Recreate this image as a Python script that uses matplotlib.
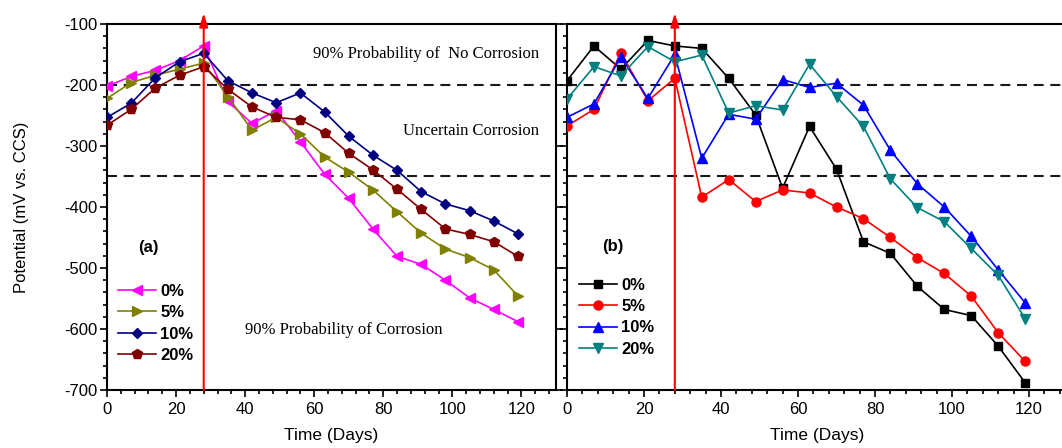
import matplotlib
matplotlib.use('Agg')
import matplotlib.pyplot as plt
from matplotlib.ticker import MultipleLocator

plt.rcParams['font.family'] = ['Liberation Sans', 'DejaVu Sans']
plt.rcParams['axes.unicode_minus'] = False

#=============================================================================
# Data (potential in mV vs. CCS)
#=============================================================================
days = [0, 7, 14, 21, 28, 35, 42, 49, 56, 63, 70, 77, 84, 91, 98, 105, 112, 119]
labels = ['0%', '5%', '10%', '20%']

# panel (a)
a_0 = [-202, -186, -176, -160, -136, -227, -263, -242, -293, -346, -386, -436,
       -481, -494, -520, -549, -568, -588]
a_5 = [-222, -196, -184, -174, -164, -219, -274, -253, -280, -318, -343, -372,
       -408, -443, -469, -483, -503, -546]
a_10 = [-253, -230, -188, -162, -148, -193, -213, -229, -213, -244, -284, -315,
        -340, -375, -395, -406, -423, -444]
a_20 = [-266, -240, -205, -184, -170, -207, -236, -253, -257, -278, -312, -339,
        -371, -404, -436, -445, -457, -481]

# panel (b)
b_0 = [-193, -136, -174, -127, -136, -140, -189, -249, -369, -268, -338, -457,
       -476, -530, -568, -578, -628, -688]
b_5 = [-267, -240, -147, -226, -189, -384, -355, -391, -372, -377, -400, -419,
       -450, -483, -509, -546, -606, -653]
b_10 = [-253, -231, -154, -222, -150, -320, -248, -256, -191, -204, -197, -233,
        -307, -362, -400, -448, -503, -557]
b_20 = [-223, -170, -185, -137, -162, -151, -246, -234, -241, -166, -219, -268,
        -354, -401, -424, -468, -512, -583]

limits = [-200, -350]
cure_day = 28

#=============================================================================
# Figure and axes
#=============================================================================
fig = plt.figure(figsize=(10.62, 4.48), dpi=100)
ax1 = fig.add_axes([107 / 1062, 58 / 448, 449 / 1062, 366 / 448])
ax2 = fig.add_axes([567 / 1062, 58 / 448, 500.5 / 1062, 366 / 448])


def setup_axes(ax, show_labels):
    ax.set_xlim(0, 130)
    ax.set_ylim(-700, -100)
    for s in ax.spines.values():
        s.set_linewidth(1.5)
    ax.xaxis.set_major_locator(MultipleLocator(20))
    ax.xaxis.set_minor_locator(MultipleLocator(4))
    ax.yaxis.set_major_locator(MultipleLocator(100))
    ax.yaxis.set_minor_locator(MultipleLocator(20))
    ax.tick_params(which='major', direction='out', length=5, width=1.2,
                   labelsize=12, top=False)
    ax.tick_params(which='minor', direction='out', length=3, width=1.2, top=False)
    ax.tick_params(axis='x', which='major', pad=3.5)
    ax.tick_params(axis='y', which='major', pad=2)
    if show_labels:
        ax.tick_params(axis='y', which='major', right=True)
        ax.tick_params(axis='y', which='minor', right=False)
    else:
        ax.tick_params(axis='y', labelleft=False, right=False)
        ax.tick_params(axis='y', which='minor', right=False)
    ax.set_xlabel('Time (Days)', fontsize=12.5)
    ax.xaxis.set_label_coords(0.5, -0.105)
    for lim in limits:
        ax.axhline(lim, color='#1a1a1a', lw=1.5, dashes=(4.8, 3.2), zorder=1)
    ax.annotate('', xy=(cure_day, -82), xytext=(cure_day, -700),
                arrowprops=dict(arrowstyle='-|>,head_length=0.8,head_width=0.25',
                                color='red', lw=1.5, shrinkA=0, shrinkB=0),
                annotation_clip=False, zorder=4)


setup_axes(ax1, True)
setup_axes(ax2, False)

ax1.set_ylabel('Potential (mV vs. CCS)', fontsize=12)
ax1.yaxis.set_label_coords(-0.174, 0.5)

#=============================================================================
# Panel (a)
#=============================================================================
ax1.plot(days, a_0, color='#ff00ff', marker='<', ms=7, lw=1.2, label=labels[0], zorder=3)
ax1.plot(days, a_5, color='#808000', marker='>', ms=7, lw=1.2, label=labels[1], zorder=3)
ax1.plot(days, a_10, color='#000080', marker='D', ms=5.5, lw=1.2, label=labels[2], zorder=3)
ax1.plot(days, a_20, color='#800000', marker='p', ms=7.5, lw=1.2, label=labels[3], zorder=3)

serif = ['Liberation Serif', 'DejaVu Serif']
ax1.text(92.5, -149, '90% Probability of  No Corrosion', family=serif,
         fontsize=12, ha='center', va='center')
ax1.text(105.5, -275, 'Uncertain Corrosion', family=serif,
         fontsize=12, ha='center', va='center')
ax1.text(68.6, -601, '90% Probability of Corrosion', family=serif,
         fontsize=12, ha='center', va='center')
ax1.text(12, -467, '(a)', fontsize=12, weight='bold', ha='center', va='center')

ax1.legend(loc='upper left', bbox_to_anchor=(3.1, -526), bbox_transform=ax1.transData,
           borderpad=0, borderaxespad=0, frameon=False, handlelength=2.3,
           handletextpad=0.25, labelspacing=0.38, numpoints=1,
           prop={'weight': 'bold', 'size': 12})

#=============================================================================
# Panel (b)
#=============================================================================
ax2.plot(days, b_0, color='black', marker='s', ms=6, lw=1.2, label=labels[0], zorder=3)
ax2.plot(days, b_5, color='#ff0000', marker='o', ms=6.5, lw=1.2, label=labels[1], zorder=3)
ax2.plot(days, b_10, color='#0000ff', marker='^', ms=7, lw=1.2, label=labels[2], zorder=3)
ax2.plot(days, b_20, color='#008080', marker='v', ms=7, lw=1.2, label=labels[3], zorder=3)

ax2.text(11.8, -465, '(b)', fontsize=12, weight='bold', ha='center', va='center')

ax2.legend(loc='upper left', bbox_to_anchor=(3.1, -516), bbox_transform=ax2.transData,
           borderpad=0, borderaxespad=0, frameon=False, handlelength=2.3,
           handletextpad=0.25, labelspacing=0.38, numpoints=1,
           prop={'weight': 'bold', 'size': 12})

fig.savefig('out.png', dpi=100)
